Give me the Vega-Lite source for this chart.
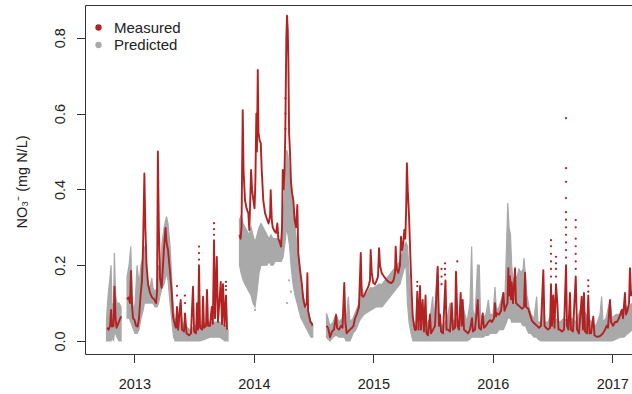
{
"$schema":"https://vega.github.io/schema/vega-lite/v6.json",
"width":547,"height":349,
"autosize":{"type":"none"},
"padding":{"left":85,"top":5,"right":0,"bottom":40},
"background":"white",
"config":{"view":{"stroke":null},"font":"Liberation Sans","axis":{"grid":false,"domainColor":"#333333","tickColor":"#333333","labelColor":"#222222","titleColor":"#222222","labelFontSize":14.5,"titleFontSize":14.5,"titleFontWeight":"normal","labelFont":"Liberation Sans","titleFont":"Liberation Sans","domainWidth":1,"tickWidth":1}},
"datasets":{
"meas":[
{"t":2012.772,"v":0.035,"s":1},{"t":2012.784,"v":0.03,"s":1},{"t":2012.797,"v":0.04,"s":1},{"t":2012.805,"v":0.082,"s":1},{"t":2012.813,"v":0.038,"s":1},{"t":2012.826,"v":0.04,"s":1},{"t":2012.834,"v":0.143,"s":1},{"t":2012.843,"v":0.06,"s":1},{"t":2012.851,"v":0.035,"s":1},{"t":2012.864,"v":0.045,"s":1},{"t":2012.876,"v":0.055,"s":1},{"t":2012.889,"v":0.065,"s":1},
{"t":2012.939,"v":0.11,"s":2},{"t":2012.951,"v":0.115,"s":2},{"t":2012.964,"v":0.1,"s":2},{"t":2012.972,"v":0.185,"s":2},{"t":2012.981,"v":0.09,"s":2},{"t":2012.989,"v":0.06,"s":2},{"t":2013.002,"v":0.055,"s":2},{"t":2013.014,"v":0.04,"s":2},{"t":2013.027,"v":0.038,"s":2},{"t":2013.039,"v":0.06,"s":2},{"t":2013.052,"v":0.12,"s":2},{"t":2013.064,"v":0.16,"s":2},{"t":2013.073,"v":0.25,"s":2},{"t":2013.084,"v":0.442,"s":2},{"t":2013.092,"v":0.3,"s":2},{"t":2013.102,"v":0.2,"s":2},{"t":2013.115,"v":0.15,"s":2},{"t":2013.131,"v":0.127,"s":2},{"t":2013.148,"v":0.115,"s":2},{"t":2013.165,"v":0.11,"s":2},{"t":2013.182,"v":0.1,"s":2},{"t":2013.19,"v":0.13,"s":2},{"t":2013.197,"v":0.5,"s":2},{"t":2013.205,"v":0.3,"s":2},{"t":2013.215,"v":0.165,"s":2},{"t":2013.228,"v":0.14,"s":2},{"t":2013.24,"v":0.2,"s":2},{"t":2013.249,"v":0.25,"s":2},{"t":2013.261,"v":0.298,"s":2},{"t":2013.269,"v":0.26,"s":2},{"t":2013.282,"v":0.24,"s":2},{"t":2013.299,"v":0.18,"s":2},{"t":2013.313,"v":0.127,"s":2},{"t":2013.324,"v":0.064,"s":2},{"t":2013.341,"v":0.04,"s":2},{"t":2013.349,"v":0.035,"s":2},{"t":2013.357,"v":0.09,"s":2},{"t":2013.366,"v":0.03,"s":2},{"t":2013.388,"v":0.108,"s":2},{"t":2013.399,"v":0.03,"s":2},{"t":2013.416,"v":0.025,"s":2},{"t":2013.424,"v":0.073,"s":2},{"t":2013.437,"v":0.02,"s":2},{"t":2013.458,"v":0.015,"s":2},{"t":2013.474,"v":0.02,"s":2},{"t":2013.491,"v":0.143,"s":2},{"t":2013.5,"v":0.025,"s":2},{"t":2013.516,"v":0.02,"s":2},{"t":2013.525,"v":0.1,"s":2},{"t":2013.533,"v":0.03,"s":2},{"t":2013.541,"v":0.2,"s":2},{"t":2013.55,"v":0.035,"s":2},{"t":2013.567,"v":0.03,"s":2},{"t":2013.575,"v":0.117,"s":2},{"t":2013.583,"v":0.035,"s":2},{"t":2013.6,"v":0.04,"s":2},{"t":2013.608,"v":0.135,"s":2},{"t":2013.617,"v":0.04,"s":2},{"t":2013.633,"v":0.04,"s":2},{"t":2013.648,"v":0.09,"s":2},{"t":2013.657,"v":0.045,"s":2},{"t":2013.667,"v":0.266,"s":2},{"t":2013.675,"v":0.06,"s":2},{"t":2013.69,"v":0.222,"s":2},{"t":2013.7,"v":0.05,"s":2},{"t":2013.723,"v":0.156,"s":2},{"t":2013.734,"v":0.045,"s":2},{"t":2013.742,"v":0.15,"s":2},{"t":2013.755,"v":0.04,"s":2},{"t":2013.767,"v":0.12,"s":2},{"t":2013.776,"v":0.03,"s":2},
{"t":2013.88,"v":0.28,"s":3},{"t":2013.889,"v":0.27,"s":3},{"t":2013.897,"v":0.3,"s":3},{"t":2013.907,"v":0.609,"s":3},{"t":2013.914,"v":0.45,"s":3},{"t":2013.926,"v":0.372,"s":3},{"t":2013.939,"v":0.35,"s":3},{"t":2013.954,"v":0.337,"s":3},{"t":2013.962,"v":0.293,"s":3},{"t":2013.968,"v":0.35,"s":3},{"t":2013.977,"v":0.451,"s":3},{"t":2013.985,"v":0.4,"s":3},{"t":2013.996,"v":0.372,"s":3},{"t":2014.006,"v":0.35,"s":3},{"t":2014.013,"v":0.42,"s":3},{"t":2014.021,"v":0.6,"s":3},{"t":2014.026,"v":0.5,"s":3},{"t":2014.033,"v":0.715,"s":3},{"t":2014.039,"v":0.55,"s":3},{"t":2014.048,"v":0.53,"s":3},{"t":2014.058,"v":0.522,"s":3},{"t":2014.066,"v":0.451,"s":3},{"t":2014.079,"v":0.372,"s":3},{"t":2014.094,"v":0.337,"s":3},{"t":2014.108,"v":0.324,"s":3},{"t":2014.123,"v":0.31,"s":3},{"t":2014.136,"v":0.33,"s":3},{"t":2014.141,"v":0.398,"s":3},{"t":2014.15,"v":0.32,"s":3},{"t":2014.158,"v":0.3,"s":3},{"t":2014.173,"v":0.29,"s":3},{"t":2014.186,"v":0.285,"s":3},{"t":2014.197,"v":0.31,"s":3},{"t":2014.205,"v":0.27,"s":3},{"t":2014.215,"v":0.262,"s":3},{"t":2014.228,"v":0.249,"s":3},{"t":2014.236,"v":0.3,"s":3},{"t":2014.242,"v":0.451,"s":3},{"t":2014.249,"v":0.4,"s":3},{"t":2014.257,"v":0.45,"s":3},{"t":2014.263,"v":0.539,"s":3},{"t":2014.268,"v":0.68,"s":3},{"t":2014.272,"v":0.8,"s":3},{"t":2014.278,"v":0.858,"s":3},{"t":2014.284,"v":0.82,"s":3},{"t":2014.289,"v":0.741,"s":3},{"t":2014.295,"v":0.55,"s":3},{"t":2014.303,"v":0.495,"s":3},{"t":2014.311,"v":0.42,"s":3},{"t":2014.32,"v":0.39,"s":3},{"t":2014.331,"v":0.37,"s":3},{"t":2014.341,"v":0.32,"s":3},{"t":2014.353,"v":0.3,"s":3},{"t":2014.364,"v":0.359,"s":3},{"t":2014.372,"v":0.232,"s":3},{"t":2014.387,"v":0.187,"s":3},{"t":2014.401,"v":0.153,"s":3},{"t":2014.414,"v":0.11,"s":3},{"t":2014.428,"v":0.09,"s":3},{"t":2014.443,"v":0.1,"s":3},{"t":2014.448,"v":0.179,"s":3},{"t":2014.454,"v":0.08,"s":3},{"t":2014.464,"v":0.064,"s":3},{"t":2014.474,"v":0.05,"s":3},{"t":2014.485,"v":0.047,"s":3},{"t":2014.491,"v":0.04,"s":3},
{"t":2014.608,"v":0.04,"s":4},{"t":2014.621,"v":0.035,"s":4},{"t":2014.638,"v":0.01,"s":4},{"t":2014.654,"v":0.025,"s":4},{"t":2014.671,"v":0.03,"s":4},{"t":2014.688,"v":0.069,"s":4},{"t":2014.696,"v":0.035,"s":4},{"t":2014.713,"v":0.03,"s":4},{"t":2014.73,"v":0.04,"s":4},{"t":2014.742,"v":0.035,"s":4},{"t":2014.757,"v":0.153,"s":4},{"t":2014.766,"v":0.05,"s":4},{"t":2014.777,"v":0.02,"s":4},{"t":2014.788,"v":0.025,"s":4},{"t":2014.805,"v":0.03,"s":4},{"t":2014.822,"v":0.035,"s":4},{"t":2014.834,"v":0.04,"s":4},{"t":2014.847,"v":0.06,"s":4},{"t":2014.864,"v":0.073,"s":4},{"t":2014.88,"v":0.09,"s":4},{"t":2014.895,"v":0.232,"s":4},{"t":2014.903,"v":0.12,"s":4},{"t":2014.916,"v":0.117,"s":4},{"t":2014.931,"v":0.125,"s":4},{"t":2014.945,"v":0.135,"s":4},{"t":2014.96,"v":0.145,"s":4},{"t":2014.972,"v":0.16,"s":4},{"t":2014.978,"v":0.24,"s":4},{"t":2014.987,"v":0.18,"s":4},{"t":2015.0,"v":0.153,"s":4},{"t":2015.014,"v":0.15,"s":4},{"t":2015.028,"v":0.16,"s":4},{"t":2015.039,"v":0.17,"s":4},{"t":2015.048,"v":0.245,"s":4},{"t":2015.056,"v":0.2,"s":4},{"t":2015.07,"v":0.179,"s":4},{"t":2015.09,"v":0.17,"s":4},{"t":2015.112,"v":0.161,"s":4},{"t":2015.131,"v":0.155,"s":4},{"t":2015.154,"v":0.153,"s":4},{"t":2015.169,"v":0.16,"s":4},{"t":2015.182,"v":0.18,"s":4},{"t":2015.187,"v":0.249,"s":4},{"t":2015.196,"v":0.19,"s":4},{"t":2015.209,"v":0.18,"s":4},{"t":2015.223,"v":0.2,"s":4},{"t":2015.232,"v":0.275,"s":4},{"t":2015.24,"v":0.24,"s":4},{"t":2015.251,"v":0.258,"s":4},{"t":2015.259,"v":0.293,"s":4},{"t":2015.268,"v":0.27,"s":4},{"t":2015.275,"v":0.35,"s":4},{"t":2015.281,"v":0.469,"s":4},{"t":2015.288,"v":0.4,"s":4},{"t":2015.299,"v":0.328,"s":4},{"t":2015.313,"v":0.196,"s":4},{"t":2015.322,"v":0.12,"s":4},{"t":2015.33,"v":0.064,"s":4},{"t":2015.341,"v":0.04,"s":4},{"t":2015.349,"v":0.029,"s":4},{"t":2015.357,"v":0.03,"s":4},{"t":2015.368,"v":0.13,"s":4},{"t":2015.378,"v":0.03,"s":4},{"t":2015.391,"v":0.145,"s":4},{"t":2015.399,"v":0.03,"s":4},{"t":2015.413,"v":0.108,"s":4},{"t":2015.424,"v":0.025,"s":4},{"t":2015.437,"v":0.12,"s":4},{"t":2015.445,"v":0.02,"s":4},{"t":2015.458,"v":0.015,"s":4},{"t":2015.474,"v":0.07,"s":4},{"t":2015.483,"v":0.02,"s":4},{"t":2015.5,"v":0.03,"s":4},{"t":2015.516,"v":0.04,"s":4},{"t":2015.539,"v":0.196,"s":4},{"t":2015.55,"v":0.04,"s":4},{"t":2015.558,"v":0.07,"s":4},{"t":2015.567,"v":0.025,"s":4},{"t":2015.583,"v":0.02,"s":4},{"t":2015.604,"v":0.16,"s":4},{"t":2015.613,"v":0.03,"s":4},{"t":2015.625,"v":0.03,"s":4},{"t":2015.642,"v":0.025,"s":4},{"t":2015.656,"v":0.1,"s":4},{"t":2015.667,"v":0.03,"s":4},{"t":2015.684,"v":0.035,"s":4},{"t":2015.692,"v":0.183,"s":4},{"t":2015.705,"v":0.04,"s":4},{"t":2015.717,"v":0.03,"s":4},{"t":2015.731,"v":0.127,"s":4},{"t":2015.74,"v":0.04,"s":4},{"t":2015.748,"v":0.108,"s":4},{"t":2015.759,"v":0.03,"s":4},{"t":2015.776,"v":0.025,"s":4},{"t":2015.793,"v":0.02,"s":4},{"t":2015.809,"v":0.03,"s":4},{"t":2015.826,"v":0.06,"s":4},{"t":2015.834,"v":0.025,"s":4},{"t":2015.851,"v":0.03,"s":4},{"t":2015.874,"v":0.108,"s":4},{"t":2015.885,"v":0.035,"s":4},{"t":2015.901,"v":0.03,"s":4},{"t":2015.916,"v":0.073,"s":4},{"t":2015.926,"v":0.035,"s":4},{"t":2015.943,"v":0.04,"s":4},{"t":2015.962,"v":0.05,"s":4},{"t":2015.977,"v":0.055,"s":4},{"t":2015.993,"v":0.05,"s":4},{"t":2016.01,"v":0.06,"s":4},{"t":2016.018,"v":0.1,"s":4},{"t":2016.027,"v":0.065,"s":4},{"t":2016.035,"v":0.073,"s":4},{"t":2016.052,"v":0.07,"s":4},{"t":2016.069,"v":0.08,"s":4},{"t":2016.088,"v":0.127,"s":4},{"t":2016.098,"v":0.08,"s":4},{"t":2016.11,"v":0.09,"s":4},{"t":2016.123,"v":0.1,"s":4},{"t":2016.13,"v":0.192,"s":4},{"t":2016.137,"v":0.12,"s":4},{"t":2016.144,"v":0.17,"s":4},{"t":2016.152,"v":0.11,"s":4},{"t":2016.158,"v":0.155,"s":4},{"t":2016.169,"v":0.1,"s":4},{"t":2016.186,"v":0.192,"s":4},{"t":2016.194,"v":0.1,"s":4},{"t":2016.211,"v":0.095,"s":4},{"t":2016.228,"v":0.09,"s":4},{"t":2016.244,"v":0.085,"s":4},{"t":2016.261,"v":0.09,"s":4},{"t":2016.27,"v":0.18,"s":4},{"t":2016.278,"v":0.09,"s":4},{"t":2016.297,"v":0.085,"s":4},{"t":2016.311,"v":0.07,"s":4},{"t":2016.326,"v":0.055,"s":4},{"t":2016.336,"v":0.05,"s":4},{"t":2016.353,"v":0.045,"s":4},{"t":2016.37,"v":0.04,"s":4},{"t":2016.387,"v":0.035,"s":4},{"t":2016.403,"v":0.04,"s":4},{"t":2016.423,"v":0.187,"s":4},{"t":2016.433,"v":0.04,"s":4},{"t":2016.445,"v":0.035,"s":4},{"t":2016.462,"v":0.03,"s":4},{"t":2016.479,"v":0.035,"s":4},{"t":2016.487,"v":0.15,"s":4},{"t":2016.495,"v":0.04,"s":4},{"t":2016.506,"v":0.12,"s":4},{"t":2016.516,"v":0.035,"s":4},{"t":2016.529,"v":0.15,"s":4},{"t":2016.54,"v":0.1,"s":4},{"t":2016.55,"v":0.03,"s":4},{"t":2016.562,"v":0.03,"s":4},{"t":2016.579,"v":0.025,"s":4},{"t":2016.596,"v":0.03,"s":4},{"t":2016.613,"v":0.2,"s":4},{"t":2016.621,"v":0.04,"s":4},{"t":2016.633,"v":0.03,"s":4},{"t":2016.646,"v":0.127,"s":4},{"t":2016.654,"v":0.03,"s":4},{"t":2016.671,"v":0.025,"s":4},{"t":2016.694,"v":0.17,"s":4},{"t":2016.705,"v":0.03,"s":4},{"t":2016.721,"v":0.02,"s":4},{"t":2016.744,"v":0.117,"s":4},{"t":2016.755,"v":0.03,"s":4},{"t":2016.763,"v":0.127,"s":4},{"t":2016.772,"v":0.025,"s":4},{"t":2016.788,"v":0.02,"s":4},{"t":2016.799,"v":0.12,"s":4},{"t":2016.809,"v":0.02,"s":4},{"t":2016.822,"v":0.02,"s":4},{"t":2016.841,"v":0.064,"s":4},{"t":2016.851,"v":0.015,"s":4},{"t":2016.87,"v":0.011,"s":4},{"t":2016.889,"v":0.012,"s":4},{"t":2016.905,"v":0.015,"s":4},{"t":2016.922,"v":0.02,"s":4},{"t":2016.939,"v":0.03,"s":4},{"t":2016.953,"v":0.04,"s":4},{"t":2016.964,"v":0.035,"s":4},{"t":2016.981,"v":0.108,"s":4},{"t":2016.989,"v":0.05,"s":4},{"t":2017.006,"v":0.04,"s":4},{"t":2017.023,"v":0.05,"s":4},{"t":2017.039,"v":0.05,"s":4},{"t":2017.056,"v":0.06,"s":4},{"t":2017.079,"v":0.082,"s":4},{"t":2017.09,"v":0.06,"s":4},{"t":2017.106,"v":0.127,"s":4},{"t":2017.115,"v":0.07,"s":4},{"t":2017.127,"v":0.08,"s":4},{"t":2017.14,"v":0.1,"s":4},{"t":2017.148,"v":0.192,"s":4},{"t":2017.157,"v":0.12,"s":4},{"t":2017.169,"v":0.13,"s":4}
],
"pred":[
{"t":2012.767,"lo":0,"hi":0.06,"s":1},{"t":2012.78,"lo":0,"hi":0.12,"s":1},{"t":2012.797,"lo":0,"hi":0.17,"s":1},{"t":2012.805,"lo":0,"hi":0.2,"s":1},{"t":2012.813,"lo":0.01,"hi":0.09,"s":1},{"t":2012.826,"lo":0,"hi":0.1,"s":1},{"t":2012.833,"lo":0.02,"hi":0.232,"s":1},{"t":2012.843,"lo":0.02,"hi":0.12,"s":1},{"t":2012.855,"lo":0.01,"hi":0.1,"s":1},{"t":2012.872,"lo":0,"hi":0.1,"s":1},{"t":2012.889,"lo":0,"hi":0.09,"s":1},
{"t":2012.939,"lo":0.06,"hi":0.17,"s":2},{"t":2012.956,"lo":0.06,"hi":0.2,"s":2},{"t":2012.97,"lo":0.05,"hi":0.249,"s":2},{"t":2012.981,"lo":0.04,"hi":0.12,"s":2},{"t":2012.993,"lo":0.03,"hi":0.08,"s":2},{"t":2013.006,"lo":0.02,"hi":0.1,"s":2},{"t":2013.023,"lo":0.02,"hi":0.2,"s":2},{"t":2013.039,"lo":0.03,"hi":0.15,"s":2},{"t":2013.056,"lo":0.06,"hi":0.2,"s":2},{"t":2013.073,"lo":0.08,"hi":0.22,"s":2},{"t":2013.084,"lo":0.1,"hi":0.25,"s":2},{"t":2013.098,"lo":0.1,"hi":0.2,"s":2},{"t":2013.115,"lo":0.1,"hi":0.15,"s":2},{"t":2013.131,"lo":0.1,"hi":0.14,"s":2},{"t":2013.146,"lo":0.1,"hi":0.166,"s":2},{"t":2013.156,"lo":0.1,"hi":0.14,"s":2},{"t":2013.173,"lo":0.09,"hi":0.13,"s":2},{"t":2013.19,"lo":0.09,"hi":0.14,"s":2},{"t":2013.203,"lo":0.1,"hi":0.2,"s":2},{"t":2013.215,"lo":0.12,"hi":0.18,"s":2},{"t":2013.232,"lo":0.14,"hi":0.26,"s":2},{"t":2013.249,"lo":0.15,"hi":0.3,"s":2},{"t":2013.269,"lo":0.18,"hi":0.328,"s":2},{"t":2013.282,"lo":0.16,"hi":0.31,"s":2},{"t":2013.299,"lo":0.1,"hi":0.25,"s":2},{"t":2013.315,"lo":0.05,"hi":0.15,"s":2},{"t":2013.328,"lo":0.01,"hi":0.08,"s":2},{"t":2013.341,"lo":0,"hi":0.06,"s":2},{"t":2013.366,"lo":0,"hi":0.05,"s":2},{"t":2013.382,"lo":0,"hi":0.1,"s":2},{"t":2013.399,"lo":0,"hi":0.05,"s":2},{"t":2013.424,"lo":0,"hi":0.04,"s":2},{"t":2013.466,"lo":0,"hi":0.03,"s":2},{"t":2013.508,"lo":0,"hi":0.04,"s":2},{"t":2013.55,"lo":0,"hi":0.04,"s":2},{"t":2013.592,"lo":0.005,"hi":0.045,"s":2},{"t":2013.633,"lo":0.01,"hi":0.05,"s":2},{"t":2013.675,"lo":0.01,"hi":0.05,"s":2},{"t":2013.717,"lo":0.01,"hi":0.05,"s":2},{"t":2013.759,"lo":0,"hi":0.04,"s":2},{"t":2013.784,"lo":0,"hi":0.03,"s":2},
{"t":2013.88,"lo":0.2,"hi":0.32,"s":3},{"t":2013.893,"lo":0.18,"hi":0.33,"s":3},{"t":2013.91,"lo":0.16,"hi":0.31,"s":3},{"t":2013.926,"lo":0.15,"hi":0.3,"s":3},{"t":2013.943,"lo":0.14,"hi":0.29,"s":3},{"t":2013.96,"lo":0.13,"hi":0.28,"s":3},{"t":2013.977,"lo":0.12,"hi":0.3,"s":3},{"t":2013.993,"lo":0.1,"hi":0.28,"s":3},{"t":2014.01,"lo":0.09,"hi":0.26,"s":3},{"t":2014.027,"lo":0.13,"hi":0.28,"s":3},{"t":2014.044,"lo":0.18,"hi":0.3,"s":3},{"t":2014.06,"lo":0.2,"hi":0.31,"s":3},{"t":2014.077,"lo":0.2,"hi":0.3,"s":3},{"t":2014.094,"lo":0.2,"hi":0.29,"s":3},{"t":2014.11,"lo":0.2,"hi":0.28,"s":3},{"t":2014.127,"lo":0.21,"hi":0.27,"s":3},{"t":2014.144,"lo":0.2,"hi":0.28,"s":3},{"t":2014.161,"lo":0.2,"hi":0.27,"s":3},{"t":2014.177,"lo":0.21,"hi":0.27,"s":3},{"t":2014.194,"lo":0.21,"hi":0.27,"s":3},{"t":2014.211,"lo":0.21,"hi":0.26,"s":3},{"t":2014.228,"lo":0.21,"hi":0.27,"s":3},{"t":2014.244,"lo":0.22,"hi":0.32,"s":3},{"t":2014.261,"lo":0.26,"hi":0.42,"s":3},{"t":2014.275,"lo":0.3,"hi":0.504,"s":3},{"t":2014.286,"lo":0.28,"hi":0.49,"s":3},{"t":2014.299,"lo":0.25,"hi":0.44,"s":3},{"t":2014.311,"lo":0.2,"hi":0.4,"s":3},{"t":2014.328,"lo":0.15,"hi":0.35,"s":3},{"t":2014.345,"lo":0.12,"hi":0.3,"s":3},{"t":2014.362,"lo":0.1,"hi":0.25,"s":3},{"t":2014.378,"lo":0.08,"hi":0.2,"s":3},{"t":2014.395,"lo":0.06,"hi":0.15,"s":3},{"t":2014.412,"lo":0.05,"hi":0.12,"s":3},{"t":2014.428,"lo":0.04,"hi":0.1,"s":3},{"t":2014.445,"lo":0.03,"hi":0.08,"s":3},{"t":2014.462,"lo":0.02,"hi":0.07,"s":3},{"t":2014.479,"lo":0.01,"hi":0.05,"s":3},{"t":2014.493,"lo":0.01,"hi":0.04,"s":3},
{"t":2014.608,"lo":0.01,"hi":0.073,"s":4},{"t":2014.621,"lo":0.005,"hi":0.06,"s":4},{"t":2014.638,"lo":0,"hi":0.04,"s":4},{"t":2014.663,"lo":0.01,"hi":0.05,"s":4},{"t":2014.688,"lo":0.015,"hi":0.07,"s":4},{"t":2014.713,"lo":0.01,"hi":0.05,"s":4},{"t":2014.738,"lo":0.01,"hi":0.06,"s":4},{"t":2014.759,"lo":0.01,"hi":0.08,"s":4},{"t":2014.772,"lo":0,"hi":0.05,"s":4},{"t":2014.791,"lo":0,"hi":0.117,"s":4},{"t":2014.805,"lo":0,"hi":0.05,"s":4},{"t":2014.83,"lo":0.02,"hi":0.06,"s":4},{"t":2014.855,"lo":0.03,"hi":0.08,"s":4},{"t":2014.88,"lo":0.05,"hi":0.1,"s":4},{"t":2014.897,"lo":0.06,"hi":0.15,"s":4},{"t":2014.922,"lo":0.07,"hi":0.12,"s":4},{"t":2014.947,"lo":0.075,"hi":0.125,"s":4},{"t":2014.972,"lo":0.08,"hi":0.14,"s":4},{"t":2014.998,"lo":0.085,"hi":0.14,"s":4},{"t":2015.023,"lo":0.09,"hi":0.145,"s":4},{"t":2015.048,"lo":0.09,"hi":0.15,"s":4},{"t":2015.073,"lo":0.09,"hi":0.15,"s":4},{"t":2015.098,"lo":0.1,"hi":0.16,"s":4},{"t":2015.123,"lo":0.11,"hi":0.17,"s":4},{"t":2015.148,"lo":0.12,"hi":0.18,"s":4},{"t":2015.173,"lo":0.13,"hi":0.19,"s":4},{"t":2015.198,"lo":0.14,"hi":0.2,"s":4},{"t":2015.223,"lo":0.15,"hi":0.21,"s":4},{"t":2015.24,"lo":0.17,"hi":0.23,"s":4},{"t":2015.257,"lo":0.19,"hi":0.25,"s":4},{"t":2015.274,"lo":0.2,"hi":0.26,"s":4},{"t":2015.286,"lo":0.1,"hi":0.25,"s":4},{"t":2015.299,"lo":0.05,"hi":0.18,"s":4},{"t":2015.316,"lo":0.02,"hi":0.1,"s":4},{"t":2015.332,"lo":0,"hi":0.06,"s":4},{"t":2015.349,"lo":0,"hi":0.04,"s":4},{"t":2015.374,"lo":0,"hi":0.04,"s":4},{"t":2015.408,"lo":0,"hi":0.05,"s":4},{"t":2015.441,"lo":0,"hi":0.04,"s":4},{"t":2015.474,"lo":0,"hi":0.06,"s":4},{"t":2015.497,"lo":0,"hi":0.117,"s":4},{"t":2015.508,"lo":0,"hi":0.05,"s":4},{"t":2015.537,"lo":0,"hi":0.196,"s":4},{"t":2015.55,"lo":0,"hi":0.05,"s":4},{"t":2015.583,"lo":0,"hi":0.04,"s":4},{"t":2015.617,"lo":0,"hi":0.06,"s":4},{"t":2015.642,"lo":0,"hi":0.1,"s":4},{"t":2015.659,"lo":0,"hi":0.05,"s":4},{"t":2015.692,"lo":0,"hi":0.06,"s":4},{"t":2015.726,"lo":0,"hi":0.05,"s":4},{"t":2015.759,"lo":0,"hi":0.08,"s":4},{"t":2015.784,"lo":0,"hi":0.05,"s":4},{"t":2015.809,"lo":0.005,"hi":0.1,"s":4},{"t":2015.823,"lo":0.01,"hi":0.249,"s":4},{"t":2015.834,"lo":0.01,"hi":0.08,"s":4},{"t":2015.851,"lo":0.01,"hi":0.06,"s":4},{"t":2015.872,"lo":0.01,"hi":0.2,"s":4},{"t":2015.887,"lo":0.01,"hi":0.2,"s":4},{"t":2015.897,"lo":0.01,"hi":0.07,"s":4},{"t":2015.918,"lo":0.01,"hi":0.06,"s":4},{"t":2015.943,"lo":0.015,"hi":0.07,"s":4},{"t":2015.962,"lo":0.015,"hi":0.108,"s":4},{"t":2015.977,"lo":0.02,"hi":0.07,"s":4},{"t":2016.002,"lo":0.02,"hi":0.07,"s":4},{"t":2016.018,"lo":0.02,"hi":0.143,"s":4},{"t":2016.031,"lo":0.02,"hi":0.08,"s":4},{"t":2016.052,"lo":0.03,"hi":0.09,"s":4},{"t":2016.088,"lo":0.03,"hi":0.127,"s":4},{"t":2016.102,"lo":0.04,"hi":0.12,"s":4},{"t":2016.115,"lo":0.05,"hi":0.25,"s":4},{"t":2016.125,"lo":0.06,"hi":0.364,"s":4},{"t":2016.136,"lo":0.06,"hi":0.3,"s":4},{"t":2016.148,"lo":0.06,"hi":0.28,"s":4},{"t":2016.158,"lo":0.05,"hi":0.2,"s":4},{"t":2016.169,"lo":0.05,"hi":0.16,"s":4},{"t":2016.186,"lo":0.05,"hi":0.17,"s":4},{"t":2016.203,"lo":0.05,"hi":0.17,"s":4},{"t":2016.219,"lo":0.05,"hi":0.19,"s":4},{"t":2016.236,"lo":0.05,"hi":0.18,"s":4},{"t":2016.253,"lo":0.04,"hi":0.19,"s":4},{"t":2016.261,"lo":0.04,"hi":0.219,"s":4},{"t":2016.274,"lo":0.04,"hi":0.17,"s":4},{"t":2016.286,"lo":0.03,"hi":0.12,"s":4},{"t":2016.303,"lo":0.02,"hi":0.09,"s":4},{"t":2016.32,"lo":0.02,"hi":0.07,"s":4},{"t":2016.345,"lo":0.01,"hi":0.06,"s":4},{"t":2016.367,"lo":0.01,"hi":0.117,"s":4},{"t":2016.378,"lo":0.005,"hi":0.05,"s":4},{"t":2016.403,"lo":0,"hi":0.05,"s":4},{"t":2016.423,"lo":0,"hi":0.117,"s":4},{"t":2016.437,"lo":0,"hi":0.05,"s":4},{"t":2016.462,"lo":0,"hi":0.05,"s":4},{"t":2016.487,"lo":0,"hi":0.07,"s":4},{"t":2016.521,"lo":0,"hi":0.06,"s":4},{"t":2016.562,"lo":0,"hi":0.05,"s":4},{"t":2016.596,"lo":0,"hi":0.06,"s":4},{"t":2016.629,"lo":0,"hi":0.05,"s":4},{"t":2016.663,"lo":0,"hi":0.06,"s":4},{"t":2016.696,"lo":0,"hi":0.05,"s":4},{"t":2016.73,"lo":0,"hi":0.08,"s":4},{"t":2016.763,"lo":0,"hi":0.08,"s":4},{"t":2016.797,"lo":0,"hi":0.06,"s":4},{"t":2016.83,"lo":0,"hi":0.05,"s":4},{"t":2016.864,"lo":0,"hi":0.04,"s":4},{"t":2016.897,"lo":0,"hi":0.07,"s":4},{"t":2016.911,"lo":0,"hi":0.117,"s":4},{"t":2016.922,"lo":0,"hi":0.05,"s":4},{"t":2016.947,"lo":0,"hi":0.06,"s":4},{"t":2016.981,"lo":0,"hi":0.108,"s":4},{"t":2016.998,"lo":0,"hi":0.06,"s":4},{"t":2017.031,"lo":0.005,"hi":0.07,"s":4},{"t":2017.065,"lo":0.01,"hi":0.07,"s":4},{"t":2017.098,"lo":0.01,"hi":0.09,"s":4},{"t":2017.131,"lo":0.02,"hi":0.09,"s":4},{"t":2017.169,"lo":0.03,"hi":0.1,"s":4}
],
"dots":[
{"t":2013.357,"v":0.12,"series":"Measured"},{"t":2013.357,"v":0.145,"series":"Measured"},{"t":2013.424,"v":0.1,"series":"Measured"},{"t":2013.424,"v":0.12,"series":"Measured"},
{"t":2013.541,"v":0.215,"series":"Measured"},{"t":2013.541,"v":0.232,"series":"Measured"},{"t":2013.541,"v":0.249,"series":"Measured"},
{"t":2013.667,"v":0.28,"series":"Measured"},{"t":2013.667,"v":0.295,"series":"Measured"},{"t":2013.667,"v":0.311,"series":"Measured"},
{"t":2013.767,"v":0.135,"series":"Measured"},{"t":2013.767,"v":0.145,"series":"Measured"},{"t":2013.767,"v":0.156,"series":"Measured"},
{"t":2014.265,"v":0.56,"series":"Measured"},{"t":2014.265,"v":0.6,"series":"Measured"},{"t":2014.265,"v":0.64,"series":"Measured"},
{"t":2015.368,"v":0.145,"series":"Measured"},{"t":2015.368,"v":0.156,"series":"Measured"},
{"t":2015.571,"v":0.15,"series":"Measured"},{"t":2015.571,"v":0.17,"series":"Measured"},{"t":2015.571,"v":0.19,"series":"Measured"},
{"t":2015.6,"v":0.175,"series":"Measured"},{"t":2015.6,"v":0.19,"series":"Measured"},{"t":2015.6,"v":0.205,"series":"Measured"},{"t":2015.703,"v":0.21,"series":"Measured"},
{"t":2016.487,"v":0.17,"series":"Measured"},{"t":2016.487,"v":0.19,"series":"Measured"},{"t":2016.487,"v":0.21,"series":"Measured"},{"t":2016.487,"v":0.23,"series":"Measured"},{"t":2016.487,"v":0.25,"series":"Measured"},{"t":2016.487,"v":0.266,"series":"Measured"},
{"t":2016.529,"v":0.17,"series":"Measured"},{"t":2016.529,"v":0.19,"series":"Measured"},{"t":2016.529,"v":0.205,"series":"Measured"},{"t":2016.529,"v":0.222,"series":"Measured"},
{"t":2016.613,"v":0.22,"series":"Measured"},{"t":2016.613,"v":0.24,"series":"Measured"},{"t":2016.613,"v":0.26,"series":"Measured"},{"t":2016.613,"v":0.28,"series":"Measured"},{"t":2016.613,"v":0.3,"series":"Measured"},{"t":2016.613,"v":0.32,"series":"Measured"},{"t":2016.613,"v":0.34,"series":"Measured"},{"t":2016.613,"v":0.377,"series":"Measured"},{"t":2016.613,"v":0.42,"series":"Measured"},{"t":2016.613,"v":0.456,"series":"Measured"},{"t":2016.613,"v":0.588,"series":"Measured"},
{"t":2016.694,"v":0.19,"series":"Measured"},{"t":2016.694,"v":0.21,"series":"Measured"},{"t":2016.694,"v":0.23,"series":"Measured"},{"t":2016.694,"v":0.25,"series":"Measured"},{"t":2016.694,"v":0.27,"series":"Measured"},{"t":2016.694,"v":0.3,"series":"Measured"},{"t":2016.694,"v":0.319,"series":"Measured"},
{"t":2016.799,"v":0.13,"series":"Measured"},{"t":2016.799,"v":0.145,"series":"Measured"},{"t":2016.799,"v":0.16,"series":"Measured"},
{"t":2014.01,"v":0.082,"series":"Predicted"},{"t":2014.278,"v":0.1,"series":"Predicted"},{"t":2014.295,"v":0.16,"series":"Predicted"},{"t":2014.311,"v":0.13,"series":"Predicted"},{"t":2014.328,"v":0.2,"series":"Predicted"},{"t":2015.29,"v":0.1,"series":"Predicted"},{"t":2015.29,"v":0.12,"series":"Predicted"}
]
},
"resolve":{"axis":{"x":"independent"}},
"layer":[
{"data":{"name":"pred"},"mark":{"type":"area","color":"#A9A9A9","stroke":"#A9A9A9","strokeWidth":1.2,"clip":true},
"encoding":{
"x":{"field":"t","type":"quantitative","scale":{"domain":[2012.587,2017.165],"nice":false,"zero":false},"axis":{"orient":"bottom","values":[2013,2014,2015,2016,2017],"format":"d","tickSize":8.5,"labelPadding":25.5,"labelBaseline":"alphabetic","labelFlush":false,"labelOverlap":false,"title":null}},
"y":{"field":"hi","type":"quantitative","scale":{"domain":[-0.0343,0.8865],"nice":false,"zero":false},"axis":{"values":[0,0.2,0.4,0.6,0.8],"format":".1f","labelAngle":270,"labelAlign":"center","labelBaseline":"alphabetic","labelFlush":false,"tickSize":8.5,"labelPadding":12.5,"title":"NO₃⁻ (mg N/L)","titleAngle":270,"titleAlign":"center","titleBaseline":"alphabetic","titleX":-58.5,"titleY":176.5}},
"y2":{"field":"lo"},
"detail":{"field":"s","type":"nominal"}}},
{"data":{"name":"meas"},"mark":{"type":"line","color":"#B22222","strokeWidth":1.9,"strokeJoin":"round","clip":true},
"encoding":{
"x":{"field":"t","type":"quantitative","scale":{"domain":[2012.587,2017.165],"nice":false,"zero":false},"axis":{"orient":"top","labels":false,"ticks":false,"title":null,"domain":true}},
"y":{"field":"v","type":"quantitative","scale":{"domain":[-0.0343,0.8865],"nice":false,"zero":false},"title":"NO₃⁻ (mg N/L)"},
"detail":{"field":"s","type":"nominal"}}},
{"data":{"name":"dots"},"mark":{"type":"circle","size":5,"opacity":1,"clip":true},
"encoding":{
"x":{"field":"t","type":"quantitative","scale":{"domain":[2012.587,2017.165],"nice":false,"zero":false},"axis":null},
"y":{"field":"v","type":"quantitative","scale":{"domain":[-0.0343,0.8865],"nice":false,"zero":false},"title":"NO₃⁻ (mg N/L)"},
"color":{"field":"series","type":"nominal","scale":{"domain":["Measured","Predicted"],"range":["#B22222","#A9A9A9"]},"legend":{"title":null,"orient":"none","legendX":6,"legendY":15,"symbolType":"circle","symbolSize":40,"labelFontSize":15,"labelFont":"Liberation Sans","labelColor":"#222222","rowPadding":1.5,"labelOffset":8,"padding":0,"symbolStrokeWidth":0,"symbolOpacity":1}}}}
]
}
